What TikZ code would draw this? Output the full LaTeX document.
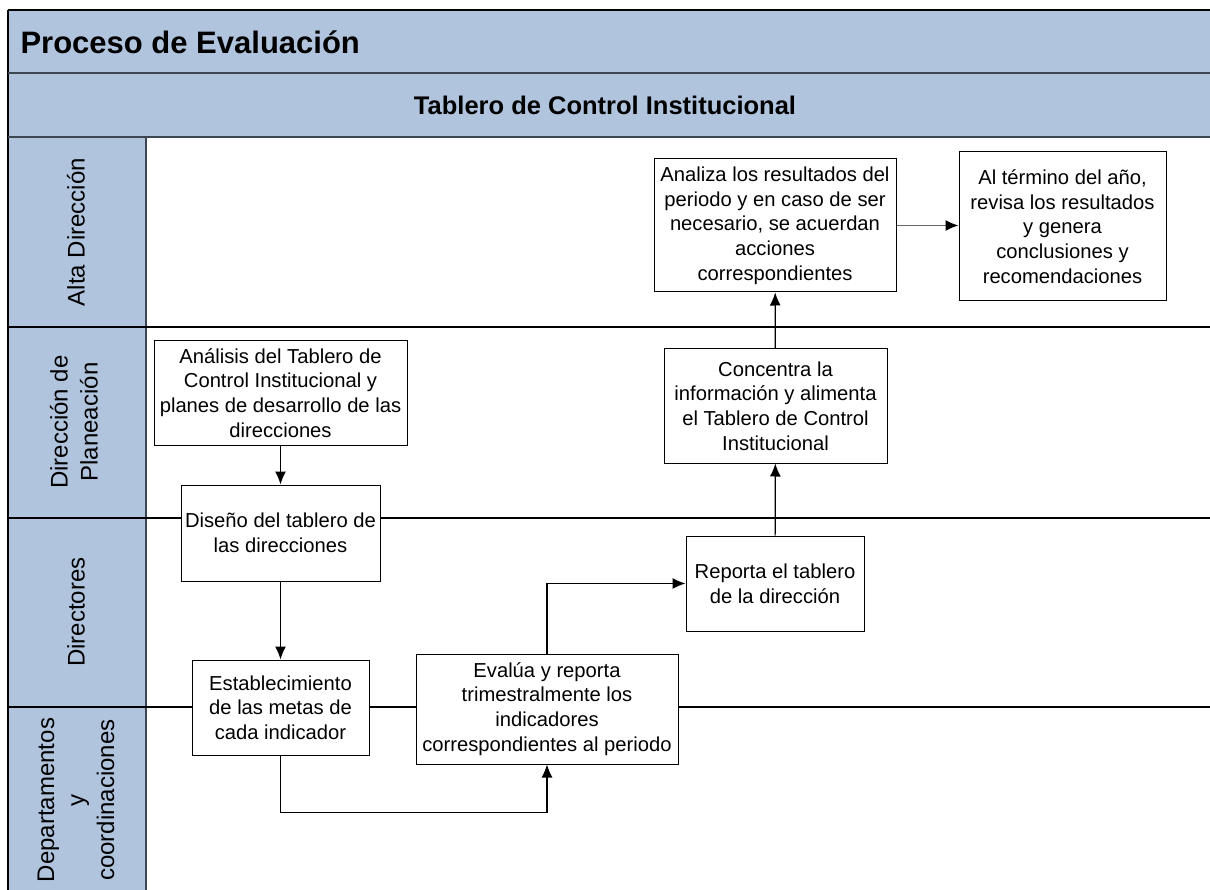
\documentclass[tikz,border=0pt]{standalone}
\usepackage{fontspec}
\setmainfont{Liberation Sans}
\usetikzlibrary{arrows.meta}
\definecolor{banda}{RGB}{176,196,222}
\definecolor{borde}{RGB}{60,70,82}
\tikzset{>={Latex[length=13pt,width=11pt]}}
\tikzset{
  paso/.style = {draw, fill=white, line width=1pt, align=center, inner sep=0pt,
    font=\fontsize{20.2}{24.7}\selectfont},
  carril/.style = {rotate=90, align=center, font=\fontsize{24}{30}\selectfont},
  linea/.style = {line width=1.2pt}
}

\begin{document}
\begin{tikzpicture}[x=1pt,y=-1pt]
  \useasboundingbox (0,0) rectangle (1210,890);
  % bands
  \fill[banda] (8,10) rectangle (1212,137);
  \fill[banda] (8,137) rectangle (146,892);
  \draw[line width=2pt] (8,10) -- (1212,10);
  \draw[line width=2pt] (8,10) -- (8,892);
  \draw[borde,line width=2pt] (8,73) -- (1212,73);
  \draw[borde,line width=2pt] (8,137) -- (1212,137);
  \draw[borde,line width=1.5pt] (146,137) -- (146,892);
  % lanes
  \foreach\Y in {327,518,707} {\draw[linea] (8,\Y) -- (1212,\Y);}
  % titles
  \node[anchor=west,font=\fontsize{31}{36}\selectfont\bfseries] (titulo) at (17,42) {Proceso de Evaluación};
  \node[font=\fontsize{25.5}{30}\selectfont\bfseries] (tablero) at (605,105) {Tablero de Control Institucional};
  \node[carril] (alta) at (76,232) {Alta Dirección};
  \node[carril] (planeacion) at (74,422) {Dirección de\\Planeación};
  \node[carril] (directores) at (76,612) {Directores};
  \node[carril] (deptos) at (76,800) {Departamentos\\y\\coordinaciones};
  % steps
  \node[paso,minimum width=242,minimum height=133] (analiza) at (775,225.5)
    {Analiza los resultados del\\periodo y en caso de ser\\necesario, se acuerdan\\acciones\\correspondientes};
  \node[paso,minimum width=207,minimum height=149] (termino) at (1062.5,226.5)
    {Al término del año,\\revisa los resultados\\y genera\\conclusiones y\\recomendaciones};
  \node[paso,minimum width=223,minimum height=114] (concentra) at (775.5,406)
    {Concentra la\\información y alimenta\\el Tablero de Control\\Institucional};
  \node[paso,minimum width=253,minimum height=104] (analisis) at (280.5,393)
    {Análisis del Tablero de\\Control Institucional y\\planes de desarrollo de las\\direcciones};
  \node[paso,minimum width=199,minimum height=96] (diseno) at (280.5,533)
    {Diseño del tablero de\\las direcciones};
  \node[paso,minimum width=178,minimum height=95] (reporta) at (775,583.5)
    {Reporta el tablero\\de la dirección};
  \node[paso,minimum width=177,minimum height=95] (establec) at (280.5,707.5)
    {Establecimiento\\de las metas de\\cada indicador};
  \node[paso,minimum width=262,minimum height=110] (evalua) at (547,709)
    {Evalúa y reporta\\trimestralmente los\\indicadores\\correspondientes al periodo};
  % arrows
  \draw[->,linea] (analisis) -- (diseno);
  \draw[->,linea] (diseno) -- (establec);
  \draw[->,linea] (establec.south) -- ++(0,57) -| (evalua.south);
  \draw[->,linea] (evalua.north) |- (reporta.west);
  \draw[->,linea] (reporta) -- (concentra);
  \draw[->,linea] (concentra) -- (analiza);
  \draw[-{Latex[length=13pt,width=11pt,black]},linea,black!60] (analiza.east) -- (analiza.east -| termino.west);
\end{tikzpicture}
\end{document}
